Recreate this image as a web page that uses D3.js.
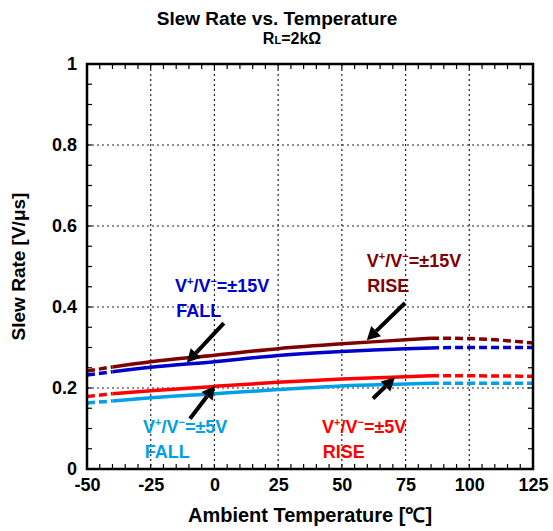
<!DOCTYPE html>
<html>
<head>
<meta charset="utf-8">
<script src="https://cdn.jsdelivr.net/npm/d3@7"></script>
<style>
  html, body { margin: 0; padding: 0; background: #fff; }
  svg { display: block; }
  text { font-family: "Liberation Sans", Arial, sans-serif; font-weight: bold; }
</style>
</head>
<body>
<div id="chart"></div>
<script>
// ---------- data ----------
const temps = [-50, -40, -25, 0, 25, 50, 75, 85, 100, 125];
const rise15 = [0.242, 0.252, 0.265, 0.281, 0.297, 0.309, 0.319, 0.323, 0.322, 0.311];
const fall15 = [0.232, 0.240, 0.251, 0.265, 0.280, 0.290, 0.297, 0.299, 0.300, 0.300];
const rise5  = [0.179, 0.186, 0.193, 0.204, 0.214, 0.222, 0.228, 0.230, 0.230, 0.229];
const fall5  = [0.163, 0.168, 0.176, 0.186, 0.196, 0.205, 0.210, 0.212, 0.212, 0.212];
const solidRange = [-40, 85];

const xTicks = [-50, -25, 0, 25, 50, 75, 100, 125];
const xTickLabels = ["-50", "-25", "0", "25", "50", "75", "100", "125"];
const yTicks = [0, 0.2, 0.4, 0.6, 0.8, 1];
const yTickLabels = ["0", "0.2", "0.4", "0.6", "0.8", "1"];

const seriesNames = ["rise15", "fall15", "rise5", "fall5"];
const seriesColors = ["#800000", "#0000cc", "#ff0000", "#00a0e6"];
const seriesValues = [rise15, fall15, rise5, fall5];

// annotation labels (data coordinates)
const labelVolt = ["15", "15", "5", "5"];
const labelMode = ["RISE", "FALL", "RISE", "FALL"];
const labelPos = [[59.8, 0.499], [-15.5, 0.437], [42.2, 0.089], [-28.0, 0.089]];
const labelModePos = [[60.0, 0.437], [-15.0, 0.375], [42.5, 0.027], [-27.3, 0.027]];
// arrows: [tailT, tailV, headT, headV]
const arrows = [
  [74.8, 0.410, 59.8, 0.318],
  [3.7, 0.360, -10.8, 0.263],
  [62.2, 0.174, 70.8, 0.226],
  [-9.6, 0.124, 0.2, 0.205]
];

// ---------- layout ----------
const W = 553, H = 531;
const m = { left: 87, right: 20, top: 64, bottom: 62 };
const pw = W - m.left - m.right, ph = H - m.top - m.bottom;

const svg = d3.select("#chart").append("svg").attr("width", W).attr("height", H);
const g = svg.append("g").attr("transform", `translate(${m.left},${m.top})`);

const x = d3.scaleLinear().domain([-50, 125]).range([0, pw]);
const y = d3.scaleLinear().domain([0, 1]).range([ph, 0]);

// grid
g.append("g").selectAll("line").data(xTicks.slice(1, -1)).join("line")
  .attr("x1", d => x(d)).attr("x2", d => x(d)).attr("y1", 0).attr("y2", ph)
  .attr("stroke", "#222").attr("stroke-width", 1.2).attr("stroke-dasharray", "2,3");
g.append("g").selectAll("line").data(yTicks.slice(1, -1)).join("line")
  .attr("y1", d => y(d)).attr("y2", d => y(d)).attr("x1", 0).attr("x2", pw)
  .attr("stroke", "#222").attr("stroke-width", 1.2).attr("stroke-dasharray", "2,3");

// minor inward ticks on all sides
const xMinor = d3.range(-45, 125, 5);
const yMinor = d3.range(1, 20).map(i => i * 0.05);
const tk = g.append("g").attr("stroke", "#000").attr("stroke-width", 1.2);
tk.selectAll(".xb").data(xMinor).join("line").attr("class", "xb")
  .attr("x1", d => x(d)).attr("x2", d => x(d)).attr("y1", ph).attr("y2", ph - 5);
tk.selectAll(".xt").data(xMinor).join("line").attr("class", "xt")
  .attr("x1", d => x(d)).attr("x2", d => x(d)).attr("y1", 0).attr("y2", 5);
tk.selectAll(".yl").data(yMinor).join("line").attr("class", "yl")
  .attr("y1", d => y(d)).attr("y2", d => y(d)).attr("x1", 0).attr("x2", 5);
tk.selectAll(".yr").data(yMinor).join("line").attr("class", "yr")
  .attr("y1", d => y(d)).attr("y2", d => y(d)).attr("x1", pw).attr("x2", pw - 5);

// axes labels via d3 axes
const xAxis = d3.axisBottom(x).tickValues(xTicks).tickFormat((d, i) => xTickLabels[i]).tickSize(0).tickPadding(9);
const xa = g.append("g").attr("transform", `translate(0,${ph})`).call(xAxis);
xa.select(".domain").remove();
xa.selectAll("text").attr("font-size", 18).attr("fill", "#000")
  .attr("font-family", "'Liberation Sans', Arial, sans-serif").attr("font-weight", "bold");

const yAxis = d3.axisLeft(y).tickValues(yTicks).tickFormat((d, i) => yTickLabels[i]).tickSize(0).tickPadding(10);
const ya = g.append("g").call(yAxis);
ya.select(".domain").remove();
ya.selectAll("text").attr("font-size", 18).attr("fill", "#000")
  .attr("font-family", "'Liberation Sans', Arial, sans-serif").attr("font-weight", "bold");

// series
const line = d3.line().x(d => x(d[0])).y(d => y(d[1])).curve(d3.curveMonotoneX);
seriesValues.forEach((vals, si) => {
  const pts = temps.map((t, i) => [t, vals[i]]);
  const left = pts.filter(p => p[0] <= solidRange[0]);
  const mid = pts.filter(p => p[0] >= solidRange[0] && p[0] <= solidRange[1]);
  const right = pts.filter(p => p[0] >= solidRange[1]);
  g.append("path").attr("d", line(mid)).attr("fill", "none")
    .attr("stroke", seriesColors[si]).attr("stroke-width", 3.5);
  [left, right].forEach(seg => {
    g.append("path").attr("d", line(seg)).attr("fill", "none")
      .attr("stroke", seriesColors[si]).attr("stroke-width", 3.5)
      .attr("stroke-dasharray", "8,4");
  });
});

// frame
g.append("rect").attr("x", 0).attr("y", 0).attr("width", pw).attr("height", ph)
  .attr("fill", "none").attr("stroke", "#000").attr("stroke-width", 2.5);

// annotations
seriesNames.forEach((nm, i) => {
  const c = seriesColors[i];
  const t = g.append("text").attr("x", x(labelPos[i][0])).attr("y", y(labelPos[i][1]))
    .attr("fill", c).attr("font-size", 18);
  t.append("tspan").text("V");
  t.append("tspan").text("+").attr("font-size", 11).attr("dy", -7);
  t.append("tspan").text("/V").attr("dy", 7);
  t.append("tspan").text("\u2212").attr("font-size", 11).attr("dy", -7);
  t.append("tspan").text("=\u00b1" + labelVolt[i] + "V").attr("dy", 7);
  g.append("text").attr("x", x(labelModePos[i][0])).attr("y", y(labelModePos[i][1]))
    .attr("fill", c).attr("font-size", 18).text(labelMode[i]);
});

arrows.forEach(a => {
  const x1 = x(a[0]), y1 = y(a[1]), x2 = x(a[2]), y2 = y(a[3]);
  const ang = Math.atan2(y2 - y1, x2 - x1);
  const hl = 13, hw = 7;
  const bx = x2 - hl * Math.cos(ang), by = y2 - hl * Math.sin(ang);
  g.append("line").attr("x1", x1).attr("y1", y1).attr("x2", bx).attr("y2", by)
    .attr("stroke", "#000").attr("stroke-width", 4);
  const px = -Math.sin(ang), py = Math.cos(ang);
  g.append("path")
    .attr("d", `M${x2},${y2}L${bx + hw * px},${by + hw * py}L${bx - hw * px},${by - hw * py}Z`)
    .attr("fill", "#000");
});

// titles
svg.append("text").attr("x", 277).attr("y", 25).attr("text-anchor", "middle")
  .attr("font-size", 19).text("Slew Rate vs. Temperature");
const st = svg.append("text").attr("x", 292).attr("y", 44).attr("text-anchor", "middle").attr("font-size", 16);
st.append("tspan").text("R");
st.append("tspan").text("L").attr("font-size", 11);
st.append("tspan").text("=2k\u03a9");

svg.append("text").attr("x", m.left + pw / 2).attr("y", 522).attr("text-anchor", "middle")
  .attr("font-size", 20).text("Ambient Temperature [\u2103]");
svg.append("text").attr("transform", `translate(25,${m.top + ph / 2}) rotate(-90)`)
  .attr("text-anchor", "middle").attr("font-size", 19).text("Slew Rate [V/\u03bcs]");
</script>
</body>
</html>
